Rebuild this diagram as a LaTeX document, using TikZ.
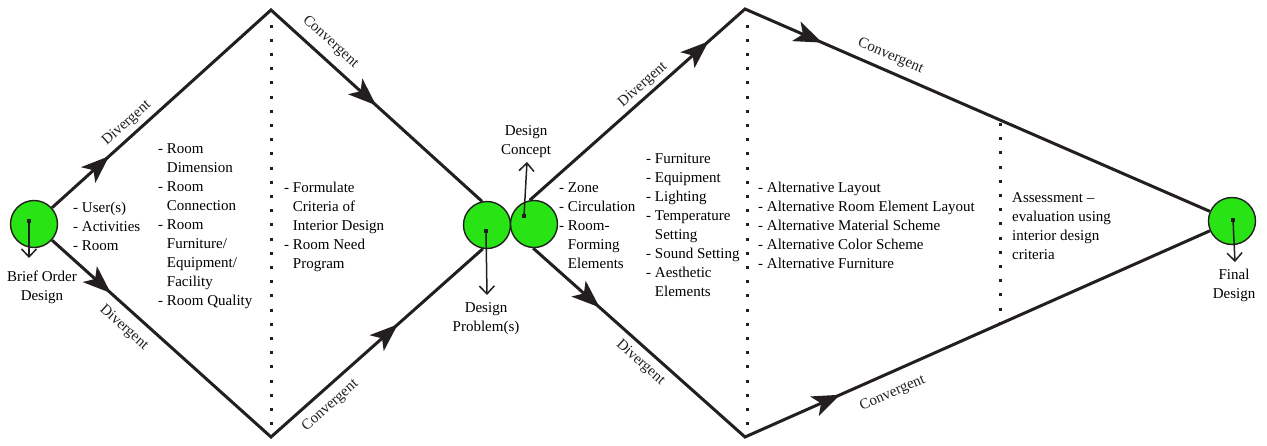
\documentclass[tikz,border=0pt]{standalone}
\usepackage{fontspec}
\setmainfont{Liberation Serif}
\usetikzlibrary{arrows.meta,decorations.markings}
\definecolor{ink}{RGB}{35,31,32}
\definecolor{dgreen}{RGB}{40,228,20}
\newcommand{\dfont}{\fontsize{15}{19}\selectfont}
\newcommand{\hind}{\hphantom{- }}
\begin{document}
\begin{tikzpicture}[x=1pt,y=-1pt,
  main/.style={draw=ink, color=ink, line width=3pt, line join=miter},
  tips/.style 2 args={postaction={decorate}, decoration={markings,
      mark=at position #1 with {\arrow{Stealth[length=28pt 0 0,width=21pt 0 0,inset=7pt 0]}},
      mark=at position #2 with {\arrow{Stealth[length=28pt 0 0,width=21pt 0 0,inset=7pt 0]}}}},
  bubble/.style={circle, draw=ink, line width=1.4pt, fill=dgreen, minimum size=47pt, inner sep=0pt},
  pin/.style={draw=ink, line width=1.5pt, -{Straight Barb[length=8pt 0 0,width=15pt 0 0]}},
  dotsq/.style={rectangle, fill=ink, inner sep=0pt, minimum size=3.8pt},
  vdots/.style={draw=ink, line width=3pt, dash pattern=on 3pt off 11.2pt},
  lab/.style={font=\dfont, sloped},
  txt/.style={font=\dfont, align=left, inner sep=0pt, anchor=north west},
  captxt/.style={font=\dfont, align=center, inner sep=0pt, anchor=north},
]
\useasboundingbox (0,0) rectangle (1267,445);

% bubbles
\node[bubble] (c1) at (34,224) {};
\node[bubble] (c2a) at (487,225) {};
\node[bubble] (c2b) at (534,224) {};
\node[bubble] (c3) at (1232,221) {};

% apexes
\coordinate (t1) at (271,10);
\coordinate (b1) at (271,437);
\coordinate (t2) at (745,9);
\coordinate (b2) at (745,437);

% dotted separators
\coordinate (d1a) at (271,24.5);
\coordinate (d1b) at (271,426);
\coordinate (d2a) at (747,24.5);
\coordinate (d2b) at (747,426);
\coordinate (d3a) at (1000,123);
\coordinate (d3b) at (1000,322);
\draw[vdots] (d1a) -- (d1b);
\draw[vdots] (d2a) -- (d2b);
\draw[vdots] (d3a) -- (d3b);

% main diamond paths
\draw[main, tips={77pt}{437pt}] (c1)
  -- node[lab, pos=0.38, above, inner sep=4.5pt]{Divergent} (t1)
  -- node[lab, pos=0.23, above, inner sep=8pt]{Convergent} (c2a.102);
\draw[main, tips={79pt}{464pt}] (c1)
  -- node[lab, pos=0.38, below, inner sep=9pt]{Divergent} (b1)
  -- node[lab, pos=0.23, below, inner sep=8pt]{Convergent} (c2a.-100);
\draw[main, tips={239pt}{372pt}] (c2b.100)
  -- node[lab, pos=0.56, above, inner sep=3pt]{Divergent} (t2)
  -- node[lab, pos=0.30, above, inner sep=7pt]{Convergent} (c3);
\draw[main, tips={89pt}{388pt}] (c2b.-92)
  -- node[lab, pos=0.55, below, inner sep=6pt]{Divergent} (b2)
  -- node[lab, pos=0.30, below, inner sep=12pt]{Convergent} (c3);

% pins
\node[dotsq] (p1) at (29,221) {};
\coordinate (q1) at (29,258);
\draw[pin] (p1.center) -- (q1);
\node[dotsq] (p2) at (486,231) {};
\coordinate (q2) at (487,295);
\draw[pin] (p2.center) -- (q2);
\node[dotsq] (p3) at (524,216) {};
\coordinate (q3) at (527,162);
\draw[pin] (p3.center) -- (q3);
\node[dotsq] (p4) at (1233,220) {};
\coordinate (q4) at (1235,262);
\draw[pin] (p4.center) -- (q4);

% captions
\node[captxt] (capA) at (42,271) {Brief Order\\Design};
\node[captxt] (capB) at (486,302) {Design\\Problem(s)};
\node[captxt, anchor=south] (capC) at (526,157.5) {Design\\Concept};
\node[captxt] (capD) at (1234,269) {Final\\Design};

% text blocks
\node[txt] (tA) at (73,202) {- User(s)\\- Activities\\- Room};
\node[txt] (tB) at (158,143) {- Room\\\hind Dimension\\- Room\\\hind Connection\\- Room\\\hind Furniture/\\\hind Equipment/\\\hind Facility\\- Room Quality};
\node[txt] (tC) at (284,182) {- Formulate\\\hind Criteria of\\\hind Interior Design\\- Room Need\\\hind Program};
\node[txt] (tD) at (559,182) {- Zone\\- Circulation\\- Room-\\\hind Forming\\\hind Elements};
\node[txt] (tE) at (646,153) {- Furniture\\- Equipment\\- Lighting\\- Temperature\\\hind Setting\\- Sound Setting\\- Aesthetic\\\hind Elements};
\node[txt] (tF) at (758,182) {- Alternative Layout\\- Alternative Room Element Layout\\- Alternative Material Scheme\\- Alternative Color Scheme\\- Alternative Furniture};
\node[txt] (tG) at (1012,192) {Assessment --\\evaluation using\\interior design\\criteria};
\end{tikzpicture}
\end{document}
